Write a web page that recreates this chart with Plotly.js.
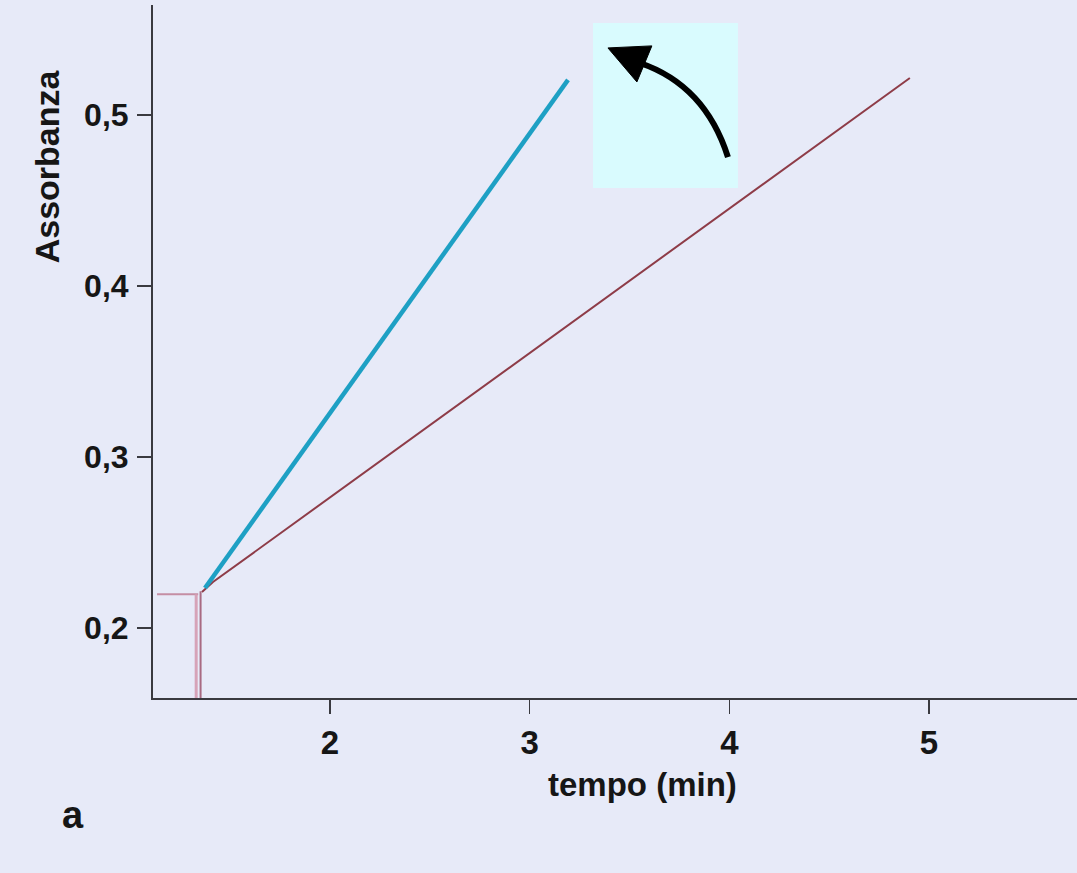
<!DOCTYPE html>
<html>
<head>
<meta charset="utf-8">
<script src="https://cdn.plot.ly/plotly-3.0.1.min.js"></script>
<style>html,body{margin:0;padding:0;background:#e7eaf8;}#chart{width:1077px;height:873px;}</style>
</head>
<body>
<div id="chart"></div>
<script>
// Series: fast reaction (cyan), slow reaction (brown)
const fastX = [1.374, 3.192];
const fastY = [0.2234, 0.5205];
const slowX = [1.359, 1.414, 4.904];
const slowY = [0.2211, 0.2269, 0.5216];
// Baseline marker (pink)
const baseHX = [1.134, 1.340];
const baseHY = [0.2197, 0.2197];
const baseV1X = [1.330, 1.330];
const baseV1Y = [0.2197, 0.1591];
const baseV2X = [1.352, 1.352];
const baseV2Y = [0.2215, 0.1591];
// Ticks
const xTickVals = [2, 3, 4, 5];
const xTickText = ["2", "3", "4", "5"];
const yTickVals = [0.2, 0.3, 0.4, 0.5];
const yTickText = ["0,2", "0,3", "0,4", "0,5"];
// Arrow inset (data coords)
const boxX = [3.317, 4.043];
const boxY = [0.4573, 0.5538];
const arrowShaft = [[3.993, 0.4754], [3.878, 0.5175], [3.552, 0.5304]]; // start, control, end
const arrowHead = [[3.392, 0.5392], [3.612, 0.5404], [3.537, 0.5193]];

const FONT = '"Liberation Sans", Arial, Helvetica, sans-serif';
const INK = '#161616';

const traces = [
  {x: baseHX, y: baseHY, mode: 'lines', line: {color: '#c58ea4', width: 2}, hoverinfo: 'skip'},
  {x: baseV1X, y: baseV1Y, mode: 'lines', line: {color: '#d6a3b8', width: 3}, hoverinfo: 'skip'},
  {x: baseV2X, y: baseV2Y, mode: 'lines', line: {color: '#a86a82', width: 2}, hoverinfo: 'skip'},
  {x: slowX, y: slowY, mode: 'lines', line: {color: '#8e3c48', width: 2}, hoverinfo: 'skip'},
  {x: fastX, y: fastY, mode: 'lines', line: {color: '#1ea0c4', width: 4.5}, hoverinfo: 'skip'}
];

const shaftPath = 'M ' + arrowShaft[0].join(',') + ' Q ' + arrowShaft[1].join(',') + ' ' + arrowShaft[2].join(',');
const headPath = 'M ' + arrowHead.map(p => p.join(',')).join(' L ') + ' Z';

const layout = {
  width: 1077, height: 873,
  margin: {l: 153, r: 0, t: 5, b: 175},
  paper_bgcolor: '#e7eaf8',
  plot_bgcolor: '#e7eaf8',
  showlegend: false,
  font: {family: FONT, color: INK},
  xaxis: {
    range: [1.1137, 5.741],
    tickvals: xTickVals, ticktext: xTickText,
    ticks: 'outside', ticklen: 14, tickwidth: 1.5, tickcolor: '#3a3a40',
    ticklabelstandoff: 0,
    showline: true, linecolor: '#3a3a40', linewidth: 2,
    showgrid: false, zeroline: false,
    tickfont: {family: FONT, size: 33, weight: 700, color: INK}
  },
  yaxis: {
    range: [0.1591, 0.5643],
    tickvals: yTickVals, ticktext: yTickText,
    ticks: 'outside', ticklen: 14, tickwidth: 1.5, tickcolor: '#3a3a40',
    ticklabelstandoff: 2,
    showline: true, linecolor: '#3a3a40', linewidth: 2,
    showgrid: false, zeroline: false,
    tickfont: {family: FONT, size: 32, weight: 700, color: INK}
  },
  shapes: [
    {type: 'rect', xref: 'x', yref: 'y', x0: boxX[0], x1: boxX[1], y0: boxY[0], y1: boxY[1],
     fillcolor: '#d9fbfe', line: {width: 0}, layer: 'below'},
    {type: 'path', xref: 'x', yref: 'y', path: shaftPath, line: {color: '#000', width: 6}},
    {type: 'path', xref: 'x', yref: 'y', path: headPath, fillcolor: '#000', line: {color: '#000', width: 1}}
  ],
  annotations: [
    {text: 'Assorbanza', xref: 'paper', yref: 'paper', x: -0.1138, y: 0.767,
     xanchor: 'center', yanchor: 'middle', textangle: -90, showarrow: false,
     font: {family: FONT, size: 34, weight: 700, color: INK}},
    {text: 'tempo (min)', xref: 'paper', yref: 'paper', x: 0.53, y: -0.125,
     xanchor: 'center', yanchor: 'middle', showarrow: false,
     font: {family: FONT, size: 33, weight: 700, color: INK}},
    {text: 'a', xref: 'paper', yref: 'paper', x: -0.0865, y: -0.169,
     xanchor: 'center', yanchor: 'middle', showarrow: false,
     font: {family: FONT, size: 38, weight: 700, color: INK}}
  ]
};

Plotly.newPlot('chart', traces, layout, {staticPlot: true, displayModeBar: false});
</script>
</body>
</html>
